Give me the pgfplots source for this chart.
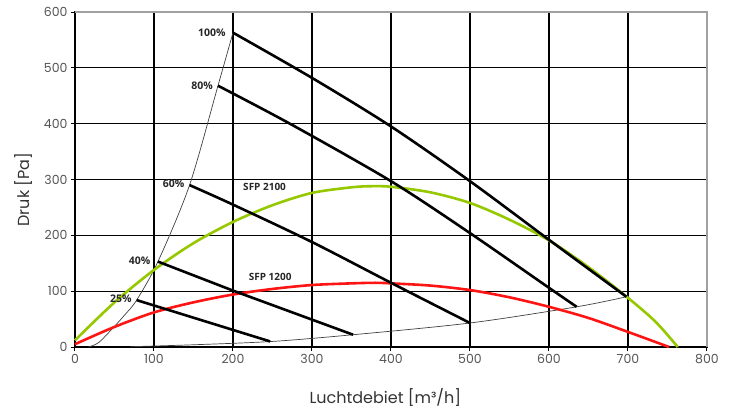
\documentclass[border=0pt]{standalone}
\usepackage{fontspec}
\setmainfont{Poppins}
\newfontfamily\lblfont{Open Sans}
\usepackage{pgfplots}
\pgfplotsset{compat=1.18}
\definecolor{sfpgreen}{RGB}{150,200,0}
\definecolor{sfpred}{RGB}{255,20,20}
\definecolor{ticktext}{RGB}{85,85,85}
\definecolor{framegrey}{RGB}{160,160,160}

\begin{document}
\begin{tikzpicture}
\useasboundingbox (-75pt,-61pt) rectangle (659pt,347pt);
\begin{axis}[
    at={(0,0)}, anchor=south west,
    scale only axis, width=632pt, height=335pt,
    xmin=0, xmax=800, ymin=0, ymax=600,
    xtick={0,100,...,800}, ytick={0,100,...,600},
    grid=major, grid style={black, line width=1.3pt},
    axis line style={black, line width=1.4pt},
    tick pos=left, tick align=outside, major tick length=4pt,
    tick style={black, line width=1pt},
    ticklabel style={font=\fontsize{12.5}{14}\selectfont, text=ticktext},
    /pgf/number format/assume math mode=true,
    xlabel={Luchtdebiet [m³/h]}, ylabel={Druk [Pa]},
    label style={font=\fontsize{16}{18}\selectfont, text=black!80},
    xlabel style={at={(axis description cs:0.491,-0.151)}, anchor=center},
    ylabel style={at={(axis description cs:-0.082,0.47)}, anchor=center},
    clip=false,
]
% thin system / limit curves
\addplot[black!75, line width=0.7pt, smooth] coordinates {
    (17,0) (30,8) (48,34) (62,56) (78,84) (105,153) (145,290) (181,468) (200,563)
};
\addplot[black!75, line width=0.7pt, smooth] coordinates {
    (70,0.5) (150,4) (250,10) (352,22) (500,43) (635,72) (698,90)
};
% SFP curves
\addplot[sfpgreen, line width=2.6pt, smooth] coordinates {
    (0,12) (50,80) (100,138) (150,186) (200,224) (250,254) (300,276) (350,286)
    (375,288) (400,287) (450,277) (500,258) (550,228) (600,191) (650,143)
    (700,88) (735,45) (763,0)
};
\addplot[sfpred, line width=2.6pt, smooth] coordinates {
    (0,5) (50,36) (100,62) (150,80) (200,94) (250,104) (300,111) (350,114)
    (380,115) (400,114) (450,110) (500,102) (550,89) (600,72) (650,52)
    (700,27) (752,0)
};
% fan speed lines
\addplot[black, line width=2.6pt, smooth] coordinates {
    (200,563) (300,482) (400,395) (500,297) (600,192) (698,90)
};
\addplot[black, line width=2.6pt, smooth] coordinates {
    (181,468) (272,400) (400,297) (500,204) (600,106) (635,72)
};
\addplot[black, line width=2.6pt, smooth] coordinates {
    (145,290) (200,255) (300,188) (400,115) (500,43)
};
\addplot[black, line width=2.6pt] coordinates {
    (105,153) (200,101) (352,22)
};
\addplot[black, line width=2.6pt] coordinates {
    (78,84) (247,10)
};
% grey frame on top and right
\draw[framegrey, line width=1.6pt] (rel axis cs:0,1) -- (rel axis cs:1,1) -- (rel axis cs:1,0);
% labels
\begin{scope}[every node/.style={font=\lblfont\bfseries\fontsize{10.5}{12}\selectfont, text=black!85, inner sep=1pt}]
\node[anchor=east] at (axis cs:192,563) {100\%};
\node[anchor=east] at (axis cs:176,468) {80\%};
\node[anchor=east] at (axis cs:140,292) {60\%};
\node[anchor=east] at (axis cs:97,155) {40\%};
\node[anchor=east] at (axis cs:73,86) {25\%};
\end{scope}
\begin{scope}[every node/.style={font=\lblfont\bfseries\fontsize{10}{12}\selectfont, text=black!85, inner sep=1pt}]
\node at (axis cs:240,287) {SFP 2100};
\node at (axis cs:247,126) {SFP 1200};
\end{scope}
\end{axis}
\end{tikzpicture}
\end{document}
